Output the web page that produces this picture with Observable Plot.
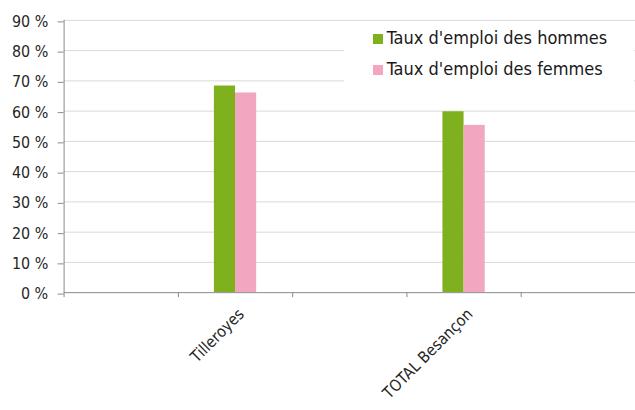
<!DOCTYPE html>
<html><head><meta charset="utf-8">
<script src="https://cdn.jsdelivr.net/npm/d3@7"></script>
<script src="https://cdn.jsdelivr.net/npm/@observablehq/plot@0.6"></script>
<style>
html,body{margin:0;padding:0;background:#fff;overflow:hidden;}
#wrap{position:relative;width:635px;height:410px;overflow:hidden;}
#legend{position:absolute;left:344px;top:22px;width:290px;height:70px;background:#fff;font-family:"DejaVu Sans Condensed","DejaVu Sans",sans-serif;font-size:18px;color:#1a1a1a;}
.item{position:absolute;left:28.7px;line-height:18px;white-space:nowrap;}
.sw{position:absolute;left:0;width:10px;height:10px;}
.lab{position:absolute;left:14px;white-space:nowrap;}
</style></head>
<body><div id="wrap"></div>
<script>
// Data
const categories = ["", "Tilleroyes", "", "TOTAL Besançon", ""];
const seriesNames = ["Taux d'emploi des hommes", "Taux d'emploi des femmes"];
const hommes = [null, 68.3, null, 59.8, null];
const femmes = [null, 66.0, null, 55.3, null];
const yTicks = [0, 10, 20, 30, 40, 50, 60, 70, 80, 90];
const colors = ["#7fb11f", "#f2a6c0"];

const barW = 0.185;
const bars = [];
[hommes, femmes].forEach((vals, k) => {
  vals.forEach((v, i) => {
    if (v != null) bars.push({i, k, series: seriesNames[k], value: v});
  });
});
const labels = categories.map((c, i) => ({i, c})).filter(d => d.c !== "");

const font = '"DejaVu Sans Condensed","DejaVu Sans",sans-serif';
const axisGray = "#8a8a8a";

const chart = Plot.plot({
  width: 639, height: 410,
  marginLeft: 64, marginRight: 0, marginTop: 20, marginBottom: 116,
  style: {fontFamily: font, fontSize: "16px", color: "#262626", background: "#fff"},
  x: {domain: [0, categories.length], axis: null},
  y: {domain: [0, 90], axis: null},
  color: {domain: seriesNames, range: colors},
  marks: [
    Plot.gridY(yTicks.filter(t => t > 0), {stroke: "#d9d9d9", strokeOpacity: 1}),
    Plot.rectY(bars, {
      x1: d => d.i + 0.5 - barW + d.k * barW,
      x2: d => d.i + 0.5 + d.k * barW,
      y: "value", fill: "series"
    }),
    Plot.axisY({ticks: yTicks, tickFormat: d => d + " %", label: null, tickSize: 6, tickPadding: 10, stroke: axisGray, strokeOpacity: 1, fill: "#262626", fontSize: 16, dy: 1.5}),
    Plot.axisX({ticks: d3.range(categories.length + 1), tickFormat: () => "", label: null, tickSize: 5, stroke: axisGray, strokeOpacity: 1}),
    Plot.ruleX([0], {stroke: axisGray}),
    Plot.ruleY([0], {stroke: axisGray}),
    Plot.text(labels, {
      x: d => d.i + 0.5, frameAnchor: "bottom", text: "c",
      rotate: -45, textAnchor: "end", lineAnchor: "middle",
      dx: 6, dy: 19, fontSize: 16, fill: "#262626"
    })
  ]
});
const wrap = document.getElementById("wrap");
wrap.appendChild(chart);

// Legend (overlay box in top right)
const legend = document.createElement("div");
legend.id = "legend";
seriesNames.forEach((name, k) => {
  const item = document.createElement("div");
  item.className = "item";
  item.style.top = (7.1 + k * 31) + "px";
  const sw = document.createElement("span");
  sw.className = "sw";
  sw.style.background = colors[k];
  sw.style.top = "5.2px";
  const lab = document.createElement("span");
  lab.className = "lab";
  lab.textContent = name;
  item.appendChild(sw); item.appendChild(lab);
  legend.appendChild(item);
});
wrap.appendChild(legend);
</script></body></html>
